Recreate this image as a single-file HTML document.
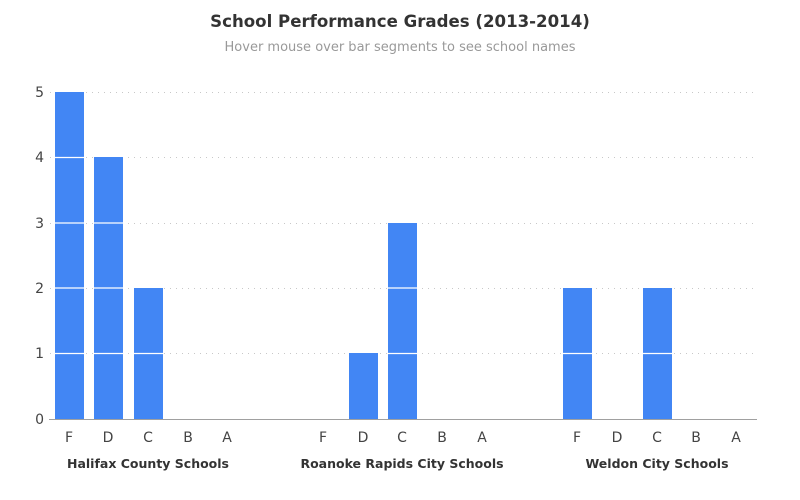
<!DOCTYPE html>
<html><head><meta charset="utf-8"><style>
html,body{margin:0;padding:0;background:#fff;}
svg{display:block;font-family:"DejaVu Sans","Liberation Sans",sans-serif;}
</style></head><body>
<svg width="800" height="500" viewBox="0 0 800 500" xmlns="http://www.w3.org/2000/svg">
<text x="400" y="27" text-anchor="middle" font-size="16.6" font-weight="bold" fill="#333">School Performance Grades (2013-2014)</text>
<text x="400" y="51" text-anchor="middle" font-size="13" fill="#999">Hover mouse over bar segments to see school names</text>
<g stroke="#c8c8c8" stroke-width="1" stroke-dasharray="1,5">
<line x1="50" x2="757" y1="92.5" y2="92.5"/>
<line x1="50" x2="757" y1="157.5" y2="157.5"/>
<line x1="50" x2="757" y1="223.5" y2="223.5"/>
<line x1="50" x2="757" y1="288.5" y2="288.5"/>
<line x1="50" x2="757" y1="353.5" y2="353.5"/>
</g>
<g font-size="14" fill="#444" text-anchor="end">
<text x="44" y="97">5</text><text x="44" y="162">4</text><text x="44" y="228">3</text>
<text x="44" y="293">2</text><text x="44" y="358">1</text><text x="44" y="424">0</text>
</g>
<g fill="#4286f4">
<rect x="55" y="92" width="29" height="327"/>
<rect x="94" y="157" width="29" height="262"/>
<rect x="134" y="288" width="29" height="131"/>
<rect x="349" y="353" width="29" height="66"/>
<rect x="388" y="223" width="29" height="196"/>
<rect x="563" y="288" width="29" height="131"/>
<rect x="643" y="288" width="29" height="131"/>
</g>
<g stroke="#fff" stroke-width="1.2">
<line x1="55" x2="84" y1="157.5" y2="157.5"/><line x1="55" x2="84" y1="223" y2="223"/>
<line x1="55" x2="84" y1="288" y2="288"/><line x1="55" x2="84" y1="353.5" y2="353.5"/>
<line x1="94" x2="123" y1="223" y2="223"/><line x1="94" x2="123" y1="288" y2="288"/>
<line x1="94" x2="123" y1="353.5" y2="353.5"/>
<line x1="134" x2="163" y1="353.5" y2="353.5"/>
<line x1="388" x2="417" y1="288" y2="288"/><line x1="388" x2="417" y1="353.5" y2="353.5"/>
<line x1="563" x2="592" y1="353.5" y2="353.5"/>
<line x1="643" x2="672" y1="353.5" y2="353.5"/>
</g>
<line x1="49" x2="757" y1="419.5" y2="419.5" stroke="#a0a0a0" stroke-width="1"/>
<g font-size="14" fill="#444" text-anchor="middle">
<text x="69" y="442">F</text><text x="108" y="442">D</text><text x="148" y="442">C</text><text x="188" y="442">B</text><text x="227" y="442">A</text>
<text x="323" y="442">F</text><text x="363" y="442">D</text><text x="402" y="442">C</text><text x="442" y="442">B</text><text x="482" y="442">A</text>
<text x="577" y="442">F</text><text x="617" y="442">D</text><text x="657" y="442">C</text><text x="696" y="442">B</text><text x="736" y="442">A</text>
</g>
<g font-size="12.5" font-weight="bold" fill="#333" text-anchor="middle">
<text x="148" y="468">Halifax County Schools</text>
<text x="402" y="468">Roanoke Rapids City Schools</text>
<text x="657" y="468">Weldon City Schools</text>
</g>
</svg>
</body></html>
